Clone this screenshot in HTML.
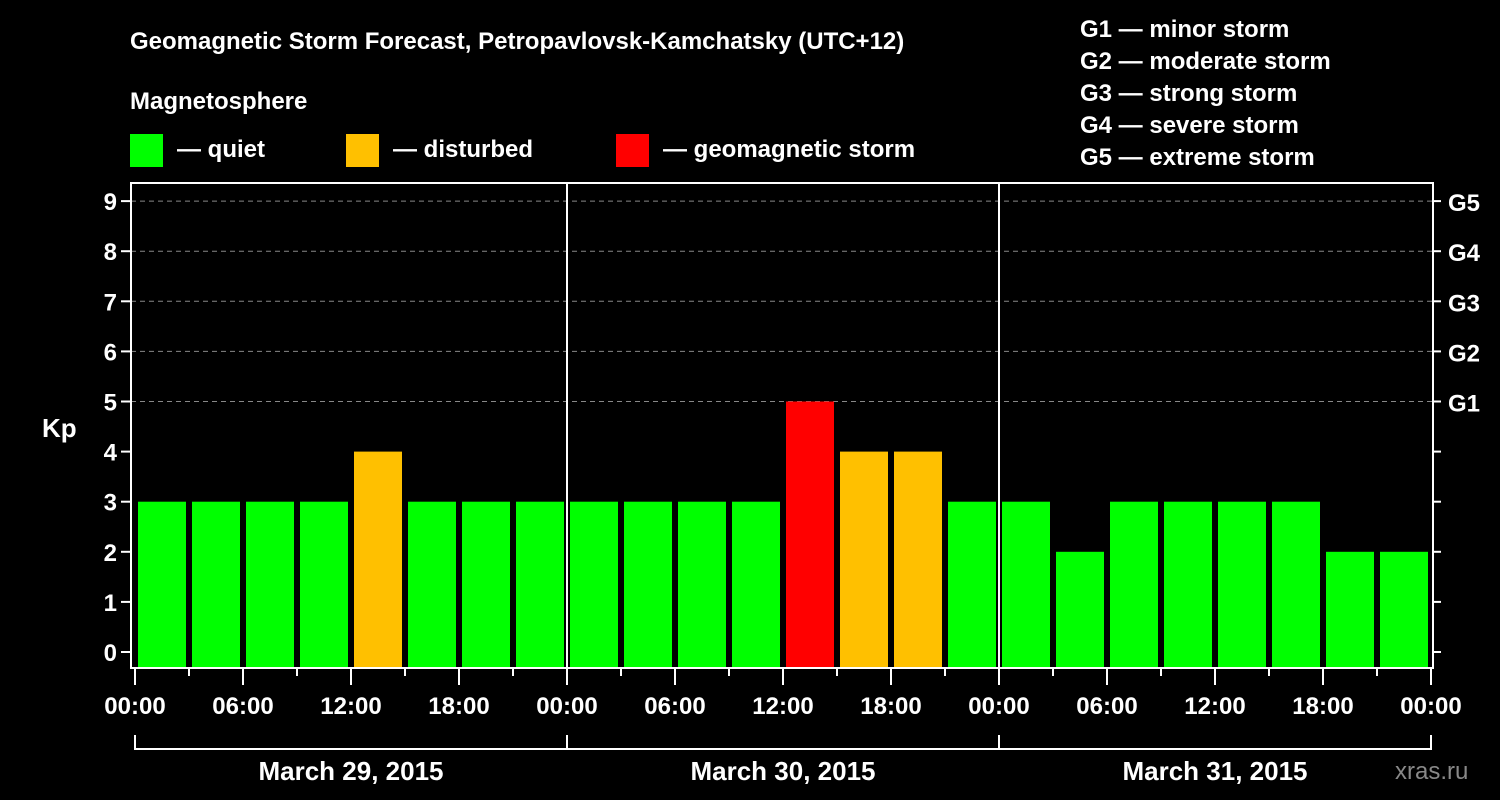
<!DOCTYPE html>
<html><head><meta charset="utf-8"><style>
body{margin:0;background:#000;width:1500px;height:800px;overflow:hidden}
svg{display:block;font-family:"Liberation Sans",sans-serif;font-weight:bold}
</style></head><body>
<svg id="c" width="1500" height="800">
<text x="130" y="49" fill="#fff" font-size="24">Geomagnetic Storm Forecast, Petropavlovsk-Kamchatsky (UTC+12)</text>
<text x="130" y="109" fill="#fff" font-size="24">Magnetosphere</text>
<g><rect x="130" y="134" width="33" height="33" fill="#00ff00"/><text x="177" y="157" fill="#fff" font-size="24">— quiet</text></g>
<g><rect x="346" y="134" width="33" height="33" fill="#ffc000"/><text x="393" y="157" fill="#fff" font-size="24">— disturbed</text></g>
<g><rect x="616" y="134" width="33" height="33" fill="#ff0000"/><text x="663" y="157" fill="#fff" font-size="24">— geomagnetic storm</text></g>
<g fill="#fff" font-size="24">
<text x="1080" y="37">G1 — minor storm</text><text x="1080" y="69">G2 — moderate storm</text><text x="1080" y="101">G3 — strong storm</text><text x="1080" y="133">G4 — severe storm</text><text x="1080" y="165">G5 — extreme storm</text></g>
<text x="42" y="437" fill="#fff" font-size="26">Kp</text>
<text x="1395" y="779" fill="#888" font-size="24" font-weight="normal">xras.ru</text>
<g id="grid"></g><g id="bars"></g><g id="axes"></g>
</svg>
<script>
const dates=["March 29, 2015","March 30, 2015","March 31, 2015"];
const kpValues=[3,3,3,3,4,3,3,3, 3,3,3,3,5,4,4,3, 3,2,3,3,3,3,2,2];
const yTicks=[0,1,2,3,4,5,6,7,8,9];
const gLabels=["G1","G2","G3","G4","G5"];
const hourLabels=["00:00","06:00","12:00","18:00"];
const NS="http://www.w3.org/2000/svg";
const X0=135,DAY=432,L=131,R=1433,T=183,B=668;
const x=h=>X0+h*DAY/24;
const y=k=>652-50.1*k;
function mk(p,t,a){const e=document.createElementNS(NS,t);for(const k in a)e.setAttribute(k,a[k]);p.appendChild(e);return e;}
const grid=document.getElementById('grid'),bars=document.getElementById('bars'),axes=document.getElementById('axes');
yTicks.forEach(k=>{
 if(k>=5){const g=mk(grid,'line',{x1:L,x2:R,y1:y(k),y2:y(k),stroke:'#888','stroke-dasharray':'5,4','stroke-width':1});
 
 }
 mk(axes,'line',{x1:L-10,x2:L,y1:y(k),y2:y(k),stroke:'#fff','stroke-width':2});
 mk(axes,'line',{x1:R,x2:R+8,y1:y(k),y2:y(k),stroke:'#fff','stroke-width':2});
 const t=mk(axes,'text',{x:L-14,y:y(k)+9,fill:'#fff','font-size':24,'text-anchor':'end'});t.textContent=k;
 
 
 if(k>=5){const g=mk(axes,'text',{x:1448,y:y(k)+10,fill:'#fff','font-size':24});g.textContent=gLabels[k-5];
 
 }
});
kpValues.forEach((v,i)=>{
 const c=v>=5?'#ff0000':v>=4?'#ffc000':'#00ff00';
 const r=mk(bars,'rect',{x:x(i*3)+3,y:y(v),width:48,height:B-1-y(v),fill:c});
 
 
});
mk(axes,'rect',{x:L,y:T,width:R-L,height:B-T,fill:'none',stroke:'#fff','stroke-width':2});
for(let d=1;d<dates.length;d++)mk(axes,'line',{x1:x(d*24),x2:x(d*24),y1:T,y2:B,stroke:'#fff','stroke-width':2});
for(let h=0;h<=24*dates.length;h+=3){
 const major=h%6===0;
 mk(axes,'line',{x1:x(h),x2:x(h),y1:B+1,y2:major?B+17:B+8,stroke:'#fff','stroke-width':2});
 if(major){const t=mk(axes,'text',{x:x(h),y:714,fill:'#fff','font-size':24,'text-anchor':'middle'});t.textContent=hourLabels[(h/6)%4];
 
 }
}
dates.forEach((d,i)=>{
 const a=x(i*24),b=x((i+1)*24);
 mk(axes,'path',{d:`M${a} 735V749H${b}V735`,fill:'none',stroke:'#fff','stroke-width':2});
 const t=mk(axes,'text',{x:(a+b)/2,y:780,fill:'#fff','font-size':26,'text-anchor':'middle'});t.textContent=d;
 
 
});
</script>
</body></html>
